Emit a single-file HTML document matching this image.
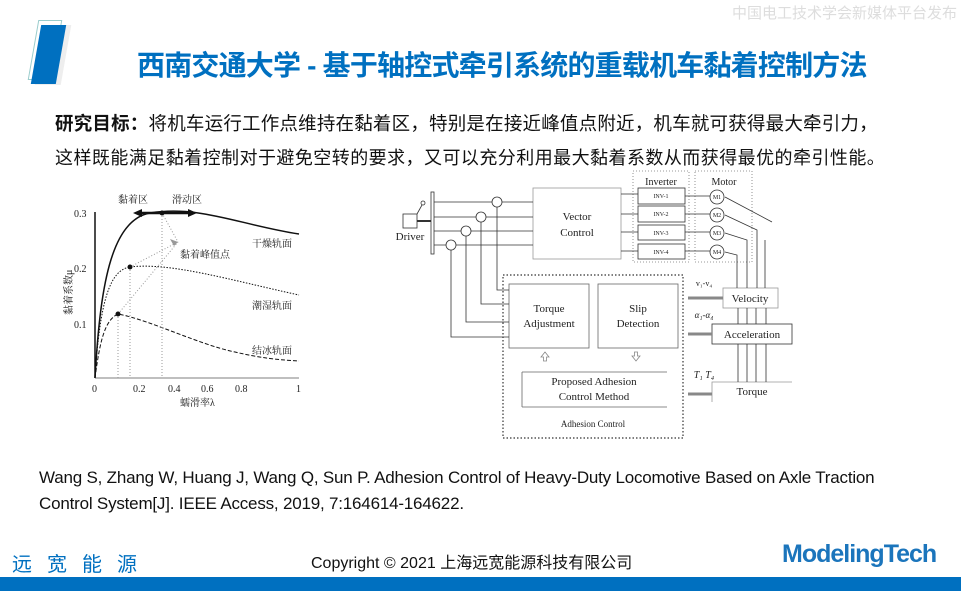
<!DOCTYPE html>
<html><head><meta charset="utf-8"><style>
body{margin:0;width:961px;height:591px;background:#fff;position:relative;overflow:hidden;font-family:"Liberation Sans","Noto Sans CJK SC",sans-serif}
.a{position:absolute;white-space:nowrap}
</style></head><body>
<div class="a" style="right:4px;top:2px;font-size:15px;color:#ddd">中国电工技术学会新媒体平台发布</div>
<div class="a" style="left:33px;top:20px;width:22px;height:58px;border:1px solid #9cc;transform:skewX(-10deg)"></div>
<div class="a" style="left:40px;top:25px;width:26px;height:60px;background:#eee;transform:skewX(-10deg)"></div>
<div class="a" style="left:36px;top:25px;width:25px;height:59px;background:#0070c0;transform:skewX(-10deg)"></div>
<div class="a" style="left:137px;top:44px;font-size:28px;font-weight:bold;color:#0070c0;letter-spacing:-0.8px">西南交通大学 - 基于轴控式牵引系统的重载机车黏着控制方法</div>
<div class="a" style="left:55px;top:110px;font-size:18.5px;color:#111;letter-spacing:0.2px"><b>研究目标：</b>将机车运行工作点维持在黏着区，特别是在接近峰值点附近，机车就可获得最大牵引力，</div>
<div class="a" style="left:55px;top:144px;font-size:18px;color:#111;letter-spacing:0.45px">这样既能满足黏着控制对于避免空转的要求，又可以充分利用最大黏着系数从而获得最优的牵引性能。</div>

<svg class="a" style="left:0;top:0" width="961" height="591" font-family="Liberation Serif,Noto Serif CJK SC,serif">
<g stroke="#111" fill="none">
<line x1="95" y1="212" x2="95" y2="378" stroke-width="1.5"/>
<line x1="95" y1="378" x2="299" y2="378" stroke="#aaa" stroke-width="1.5"/>
<path d="M95 378 C100 290 110 220 150 213 C200 205 240 225 299 234" stroke-width="1.5"/>
<path d="M95 378 C100 300 110 270 130 267 C170 262 230 280 299 295" stroke-dasharray="1.5 1.5"/>
<path d="M95 378 C100 340 105 320 118 314 C150 320 200 345 235 352 C260 358 280 360 299 361" stroke-dasharray="4 2"/>
<g stroke="#999" stroke-dasharray="1 2"><line x1="118" y1="314" x2="118" y2="378"/><line x1="130" y1="267" x2="130" y2="378"/><line x1="162" y1="213" x2="162" y2="378"/>
<line x1="118" y1="314" x2="178" y2="242"/><line x1="130" y1="267" x2="178" y2="242"/><line x1="162" y1="213" x2="178" y2="242"/></g>
<line x1="138" y1="213" x2="192" y2="213" stroke-width="2.5"/>
</g>
<polygon points="133,213 142,209 142,217" fill="#111"/><polygon points="197,213 188,209 188,217" fill="#111"/>
<polygon points="178,242 170,239 174,246" fill="#999"/>
<g fill="#111"><circle cx="162" cy="213" r="2.5"/><circle cx="130" cy="267" r="2.5"/><circle cx="118" cy="314" r="2.5"/></g>
<g font-size="10" fill="#222">
<text x="74" y="217">0.3</text><text x="74" y="272">0.2</text><text x="74" y="328">0.1</text>
<text x="92" y="392">0</text><text x="133" y="392">0.2</text><text x="168" y="392">0.4</text><text x="201" y="392">0.6</text><text x="235" y="392">0.8</text><text x="296" y="392">1</text>
<text x="180" y="406">蠕滑率λ</text><text x="118" y="203">黏着区</text><text x="172" y="203">滑动区</text>
<text x="252" y="247">干燥轨面</text><text x="180" y="258">黏着峰值点</text><text x="252" y="309">潮湿轨面</text><text x="252" y="354">结冰轨面</text>
<text transform="translate(72,315) rotate(-90)">黏着系数μ</text>
</g>
<g stroke="#333" fill="none" stroke-width="0.8">
<rect x="533" y="188" width="88" height="71" stroke="#999"/>
<rect x="633" y="171" width="56" height="91" stroke-dasharray="1 2" stroke="#777"/>
<rect x="695" y="171" width="57" height="91" stroke-dasharray="1 2" stroke="#777"/>
<rect x="638" y="188" width="47" height="16"/><rect x="638" y="206" width="47" height="16"/><rect x="638" y="225" width="47" height="15"/><rect x="638" y="244" width="47" height="15"/>
<circle cx="717" cy="197" r="7"/><circle cx="717" cy="215" r="7"/><circle cx="717" cy="233" r="7"/><circle cx="717" cy="252" r="7"/>
<rect x="403" y="214" width="14" height="14"/><rect x="431" y="192" width="3" height="62"/>
<line x1="417" y1="221" x2="431" y2="221" stroke-width="2"/><line x1="417" y1="214" x2="422" y2="205"/><circle cx="423" cy="203" r="2"/>
<circle cx="497" cy="202" r="5"/><circle cx="481" cy="217" r="5"/><circle cx="466" cy="231" r="5"/><circle cx="451" cy="245" r="5"/>
<path d="M434 202H492 M502 202H533 M434 217H476 M486 217H533 M434 231H461 M471 231H533 M434 245H446 M456 245H533"/>
<path d="M621 194H638 M621 214H638 M621 232H638 M621 251H638 M685 196H710 M685 214H710 M685 232H710 M685 251H710"/>
<rect x="503" y="275" width="180" height="163" stroke-dasharray="1.5 2" stroke-width="1.2"/>
<rect x="509" y="284" width="80" height="64" stroke="#666"/><rect x="598" y="284" width="80" height="64" stroke="#666"/>
<path d="M522 372H667 M522 372V407 M522 407H667" stroke="#666"/>
<path d="M497 207V290H509 M481 222V304H509 M466 236V322H509 M451 250V337H509"/>
<rect x="723" y="288" width="55" height="20" stroke="#999"/><rect x="712" y="324" width="80" height="20"/>
<path d="M712 402V382H792" stroke="#999"/>
<path d="M725 197L772 222 M725 215L757 230V288 M725 233L747 240V288 M725 252L737 255V288 M765 240V288"/>
<path d="M738 308V324 M747 308V324 M756 308V324 M766 308V324 M738 344V382 M747 344V382 M756 344V382 M766 344V382"/>
<path d="M723 298H688 M712 334H688 M712 394H688" stroke="#888" stroke-width="3"/>
<path d="M545 352l-4 5h2.5v4h3v-4h2.5z M636 361l-4-5h2.5v-4h3v4h2.5z" stroke="#888" fill="#fff"/>
</g>
<g font-size="11" fill="#222" text-anchor="middle">
<text x="577" y="220">Vector</text><text x="577" y="236">Control</text>
<text x="661" y="185" font-size="10">Inverter</text><text x="724" y="185" font-size="10">Motor</text>
<text x="410" y="240">Driver</text>
<text x="549" y="312">Torque</text><text x="549" y="327">Adjustment</text>
<text x="638" y="312">Slip</text><text x="638" y="327">Detection</text>
<text x="594" y="385">Proposed Adhesion</text><text x="594" y="400">Control Method</text>
<text x="593" y="427" font-size="9">Adhesion Control</text>
<text x="750" y="302">Velocity</text><text x="752" y="338">Acceleration</text><text x="752" y="395">Torque</text>
<g font-size="6"><text x="661" y="198">INV-1</text><text x="661" y="216">INV-2</text><text x="661" y="235">INV-3</text><text x="661" y="254">INV-4</text>
<text x="717" y="199">M1</text><text x="717" y="217">M2</text><text x="717" y="235">M3</text><text x="717" y="254">M4</text></g>
<text x="704" y="286" font-size="8">v₁-v₄</text><text x="704" y="318" font-size="9" font-style="italic">α₁-α₄</text><text x="704" y="378" font-size="10" font-style="italic">T₁ T₄</text>
</g>
</svg>

<div class="a" style="left:39px;top:468px;font-size:17px;color:#111;letter-spacing:-0.2px">Wang S, Zhang W, Huang J, Wang Q, Sun P. Adhesion Control of Heavy-Duty Locomotive Based on Axle Traction</div>
<div class="a" style="left:39px;top:494px;font-size:17px;color:#111;letter-spacing:-0.2px">Control System[J]. IEEE Access, 2019, 7:164614-164622.</div>
<div class="a" style="left:12px;top:548px;font-size:20px;color:#0070c0;letter-spacing:15px">远宽能源</div>
<div class="a" style="left:311px;top:549px;font-size:16px;color:#111">Copyright © 2021 上海远宽能源科技有限公司</div>
<div class="a" style="left:782px;top:540px;font-size:25px;font-weight:bold;color:#1b75bc;letter-spacing:-1px">ModelingTech</div>
<div class="a" style="left:0;top:577px;width:961px;height:14px;background:#0070c0"></div>
</body></html>
